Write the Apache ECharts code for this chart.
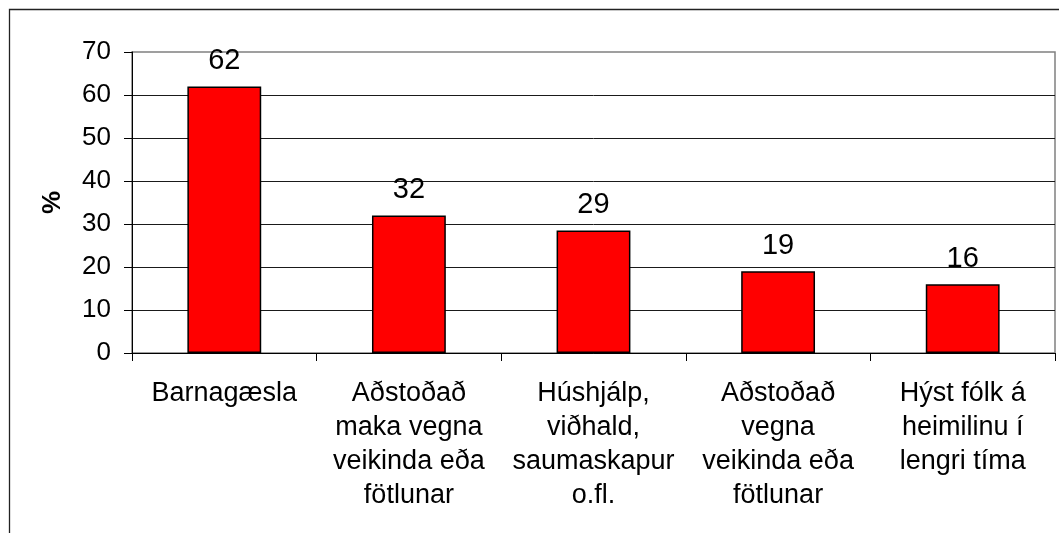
<!DOCTYPE html>
<html>
<head>
<meta charset="utf-8">
<script src="https://cdn.jsdelivr.net/npm/echarts@6/dist/echarts.min.js"></script>
<style>
  html, body { margin: 0; padding: 0; background: #fff; }
  #chart { width: 1059px; height: 533px; }
</style>
</head>
<body>
<div id="chart"></div>
<script>
// categories (x axis)
const categories = [
  'Barnagæsla',
  'Aðstoðað\nmaka vegna\nveikinda eða\nfötlunar',
  'Húshjálp,\nviðhald,\nsaumaskapur\no.fl.',
  'Aðstoðað\nvegna\nveikinda eða\nfötlunar',
  'Hýst fólk á\nheimilinu í\nlengri tíma'
];
// percentages
const values = [62, 32, 28.5, 19, 16];
// y axis ticks
const yMin = 0;
const yMax = 70;
const yStep = 10;

const chart = echarts.init(document.getElementById('chart'));
const font = '"Liberation Sans", Arial, sans-serif';

chart.setOption({
  animation: false,
  textStyle: { fontFamily: font },
  // outer frame, cut off at the right and bottom edges
  graphic: [{
    type: 'rect',
    shape: { x: 9.5, y: 9.5, width: 1200, height: 700 },
    style: { fill: 'none', stroke: '#222', lineWidth: 1.3 },
    silent: true
  }],
  grid: {
    left: 132, top: 52, right: 4, bottom: 180,
    show: true,
    borderColor: '#808080',
    borderWidth: 1.5,
    backgroundColor: 'transparent'
  },
  xAxis: {
    type: 'category',
    data: categories,
    axisLine: { show: true, lineStyle: { color: '#000', width: 1 } },
    axisTick: { show: true, length: 8, lineStyle: { color: '#000' } },
    axisLabel: {
      color: '#000',
      fontSize: 27,
      lineHeight: 34,
      margin: 24,
      interval: 0,
      fontFamily: font
    },
    splitLine: { show: false }
  },
  yAxis: {
    type: 'value',
    min: yMin,
    max: yMax,
    interval: yStep,
    name: '%',
    nameLocation: 'middle',
    nameRotate: 90,
    nameGap: 66,
    nameTextStyle: { color: '#000', fontSize: 26, fontWeight: 'bold', fontFamily: font },
    axisLine: { show: true, lineStyle: { color: '#000', width: 1 } },
    axisTick: { show: true, length: 8, lineStyle: { color: '#000' } },
    axisLabel: { color: '#000', fontSize: 26, margin: 21, fontFamily: font },
    splitLine: {
      show: true,
      showMaxLine: false,
      lineStyle: { color: '#1a1a1a', width: 1 }
    }
  },
  series: [{
    type: 'bar',
    data: values,
    barWidth: '40%',
    itemStyle: { color: '#ff0000', borderColor: '#000', borderWidth: 1.5 },
    label: {
      show: true,
      position: 'top',
      distance: 11,
      color: '#000',
      fontSize: 29,
      fontFamily: font,
      formatter: p => Math.round(p.value)
    }
  }]
});
</script>
</body>
</html>
